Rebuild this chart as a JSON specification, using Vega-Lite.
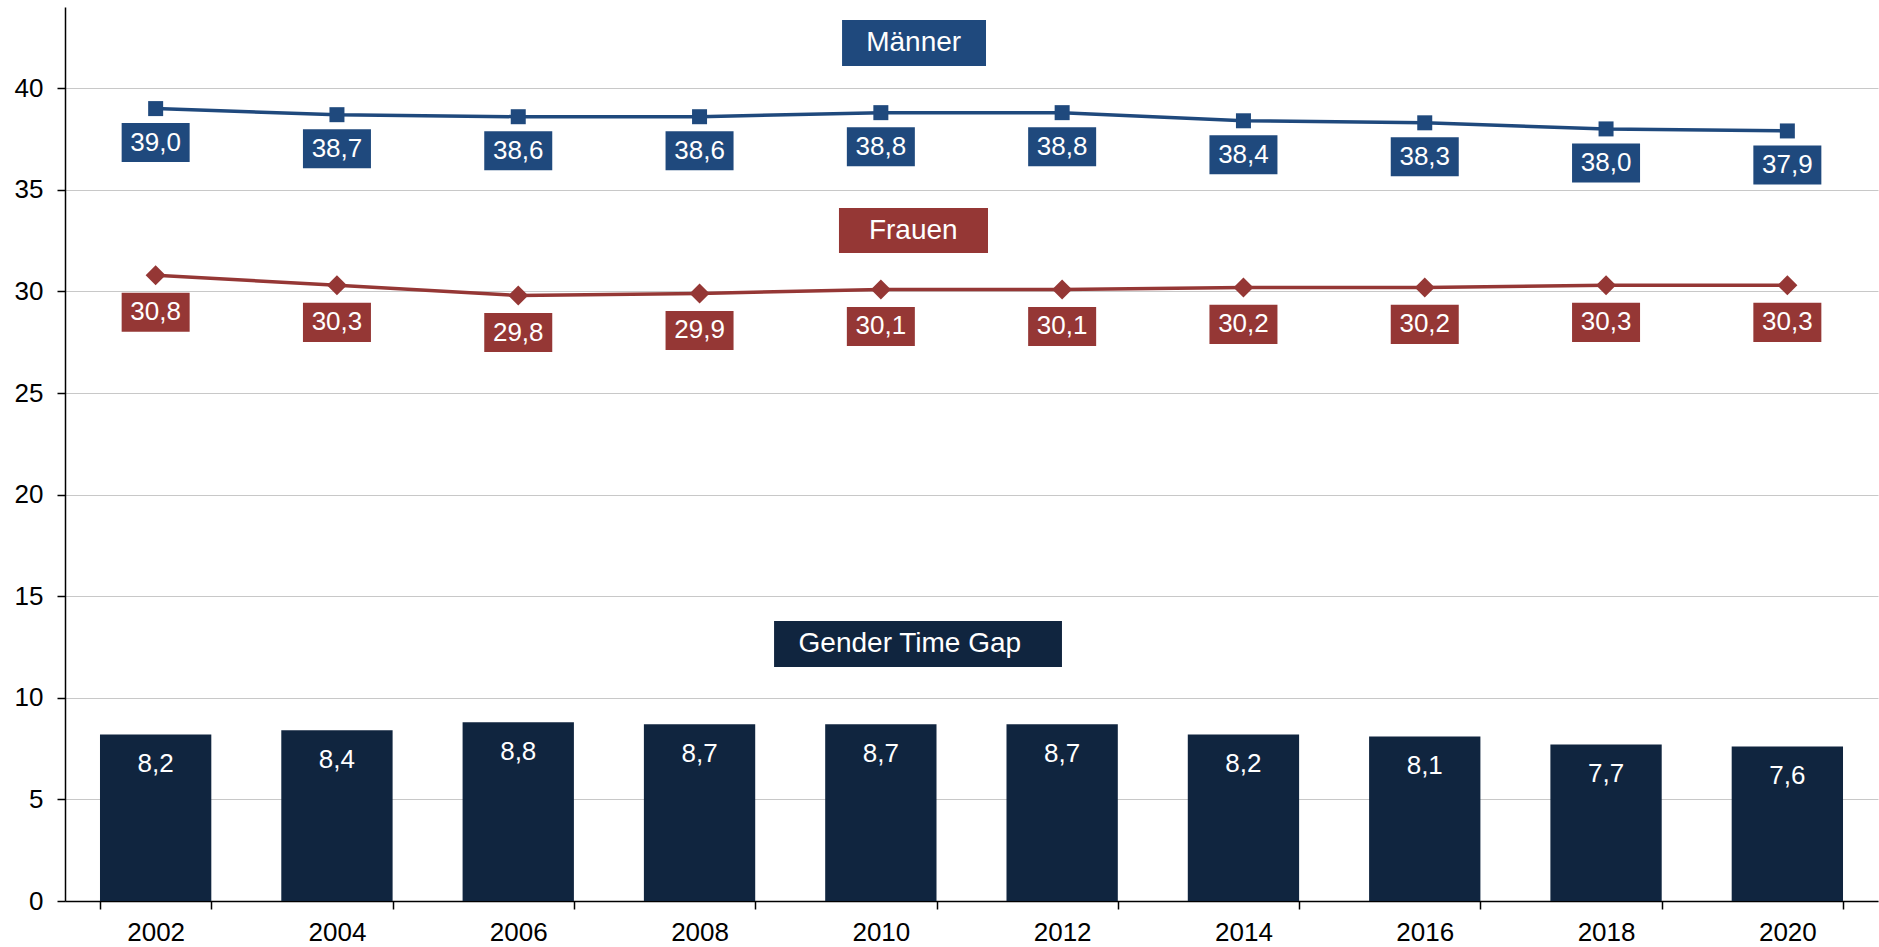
{
  "$schema": "https://vega.github.io/schema/vega-lite/v6.json",
  "width": 1813,
  "height": 894,
  "autosize": {"type": "none"},
  "padding": {"left": 65, "top": 7, "right": 1, "bottom": 46},
  "background": "white",
  "config": {
    "view": {"stroke": null},
    "font": "Liberation Sans",
    "locale": {"number": {"decimal": ",", "thousands": ".", "grouping": [3], "currency": ["", " €"]}}
  },
  "datasets": {
    "main": [
      {"year": "2002", "maenner": 39.0, "frauen": 30.8, "gap": 8.2},
      {"year": "2004", "maenner": 38.7, "frauen": 30.3, "gap": 8.4},
      {"year": "2006", "maenner": 38.6, "frauen": 29.8, "gap": 8.8},
      {"year": "2008", "maenner": 38.6, "frauen": 29.9, "gap": 8.7},
      {"year": "2010", "maenner": 38.8, "frauen": 30.1, "gap": 8.7},
      {"year": "2012", "maenner": 38.8, "frauen": 30.1, "gap": 8.7},
      {"year": "2014", "maenner": 38.4, "frauen": 30.2, "gap": 8.2},
      {"year": "2016", "maenner": 38.3, "frauen": 30.2, "gap": 8.1},
      {"year": "2018", "maenner": 38.0, "frauen": 30.3, "gap": 7.7},
      {"year": "2020", "maenner": 37.9, "frauen": 30.3, "gap": 7.6}
    ],
    "titles": [
      {"label": "Männer", "x1": 4.286, "x2": 5.080, "y1": 43.36, "y2": 41.10, "tx": 4.681, "ty": 42.23},
      {"label": "Frauen", "x1": 4.269, "x2": 5.091, "y1": 34.11, "y2": 31.89, "tx": 4.679, "ty": 33.0},
      {"label": "Gender Time Gap", "x1": 3.911, "x2": 5.499, "y1": 13.78, "y2": 11.52, "tx": 4.66, "ty": 12.65}
    ]
  },
  "layer": [
    {
      "data": {"name": "main"},
      "encoding": {
        "x": {
          "field": "year",
          "type": "ordinal",
          "scale": {"paddingInner": 0.386, "paddingOuter": 0.193},
          "axis": {
            "title": null,
            "labelAngle": 0,
            "labelFontSize": 26,
            "labelColor": "black",
            "labelPadding": 10,
            "tickBand": "extent",
            "tickSize": 8,
            "tickColor": "black",
            "tickWidth": 1.5,
            "domainColor": "black",
            "domainWidth": 1.5,
            "grid": false
          }
        }
      },
      "layer": [
        {
          "mark": {"type": "bar", "color": "#10253f"},
          "encoding": {
            "y": {
              "field": "gap",
              "type": "quantitative",
              "scale": {"domain": [0, 44], "nice": false},
              "axis": {
                "title": null,
                "values": [0, 5, 10, 15, 20, 25, 30, 35, 40],
                "labelFontSize": 26,
                "labelColor": "black",
                "labelPadding": 14,
                "tickSize": 8,
                "tickColor": "black",
                "tickWidth": 1.5,
                "domainColor": "black",
                "domainWidth": 1.5,
                "grid": true,
                "gridColor": "#c8c8c8",
                "gridWidth": 1.2
              }
            }
          }
        },
        {
          "mark": {"type": "text", "color": "white", "fontSize": 26, "baseline": "middle", "dy": 29.5},
          "encoding": {
            "y": {"field": "gap", "type": "quantitative"},
            "text": {"field": "gap", "type": "quantitative", "format": ".1f"}
          }
        },
        {
          "mark": {"type": "line", "color": "#1f497d", "strokeWidth": 3.5},
          "encoding": {"y": {"field": "maenner", "type": "quantitative"}}
        },
        {
          "mark": {"type": "point", "shape": "square", "filled": true, "opacity": 1, "color": "#1f497d", "size": 225},
          "encoding": {"y": {"field": "maenner", "type": "quantitative"}}
        },
        {
          "mark": {"type": "point", "shape": "M-1,-0.574L1,-0.574L1,0.574L-1,0.574Z", "filled": true, "opacity": 1, "color": "#1f497d", "size": 4624, "yOffset": 34},
          "encoding": {"y": {"field": "maenner", "type": "quantitative"}}
        },
        {
          "mark": {"type": "text", "color": "white", "fontSize": 26, "baseline": "middle", "yOffset": 34},
          "encoding": {
            "y": {"field": "maenner", "type": "quantitative"},
            "text": {"field": "maenner", "type": "quantitative", "format": ".1f"}
          }
        },
        {
          "mark": {"type": "line", "color": "#953735", "strokeWidth": 3.5},
          "encoding": {"y": {"field": "frauen", "type": "quantitative"}}
        },
        {
          "mark": {"type": "point", "shape": "diamond", "filled": true, "opacity": 1, "color": "#953735", "size": 400},
          "encoding": {"y": {"field": "frauen", "type": "quantitative"}}
        },
        {
          "mark": {"type": "point", "shape": "M-1,-0.574L1,-0.574L1,0.574L-1,0.574Z", "filled": true, "opacity": 1, "color": "#953735", "size": 4624, "yOffset": 37},
          "encoding": {"y": {"field": "frauen", "type": "quantitative"}}
        },
        {
          "mark": {"type": "text", "color": "white", "fontSize": 26, "baseline": "middle", "yOffset": 37},
          "encoding": {
            "y": {"field": "frauen", "type": "quantitative"},
            "text": {"field": "frauen", "type": "quantitative", "format": ".1f"}
          }
        }
      ]
    },
    {
      "data": {"name": "titles"},
      "layer": [
        {
          "mark": {"type": "rect"},
          "encoding": {
            "x": {"field": "x1", "type": "quantitative", "scale": {"domain": [0, 10], "nice": false, "zero": false}, "axis": null},
            "x2": {"field": "x2"},
            "y": {"field": "y1", "type": "quantitative"},
            "y2": {"field": "y2"},
            "color": {
              "field": "label",
              "type": "nominal",
              "scale": {"domain": ["Männer", "Frauen", "Gender Time Gap"], "range": ["#1f497d", "#953735", "#10253f"]},
              "legend": null
            }
          }
        },
        {
          "mark": {"type": "text", "color": "white", "fontSize": 28, "baseline": "middle"},
          "encoding": {
            "x": {"field": "tx", "type": "quantitative"},
            "y": {"field": "ty", "type": "quantitative"},
            "text": {"field": "label"}
          }
        }
      ]
    }
  ],
  "resolve": {"scale": {"x": "independent", "color": "independent"}}
}
